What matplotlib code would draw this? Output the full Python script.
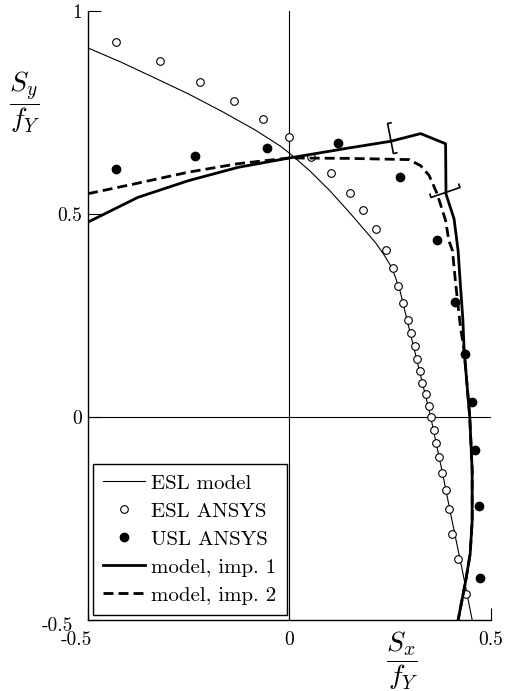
import numpy as np
import matplotlib
matplotlib.use('Agg')
import matplotlib.pyplot as plt
from matplotlib.path import Path
from matplotlib.markers import MarkerStyle
from matplotlib.transforms import Affine2D, ScaledTranslation

plt.rcParams['font.family'] = 'serif'
plt.rcParams['font.serif'] = ['cmr10']
plt.rcParams['mathtext.fontset'] = 'cm'
plt.rcParams['axes.unicode_minus'] = False

# ESL model (thin line)
esl_model_x = [-0.5, -0.418, -0.334, -0.251, -0.168, -0.085, -0.022, 0.0, 0.05, 0.10, 0.15,
               0.19, 0.215, 0.236, 0.250, 0.262, 0.275, 0.292, 0.316, 0.351, 0.380, 0.405, 0.430, 0.454]
esl_model_y = [0.909, 0.874, 0.835, 0.796, 0.753, 0.707, 0.667, 0.650, 0.607, 0.558, 0.503,
               0.457, 0.428, 0.398, 0.375, 0.348, 0.310, 0.240, 0.143, 0.0, -0.137, -0.260, -0.380, -0.5]

# ESL ANSYS (open circles)
esl_ansys_x = [-0.431, -0.321, -0.221, -0.137, -0.065, 0.000, 0.055, 0.103, 0.150, 0.184, 0.214,
               0.240, 0.257, 0.270, 0.282, 0.295, 0.302, 0.312, 0.316, 0.324, 0.329, 0.339, 0.346,
               0.351, 0.360, 0.364, 0.371, 0.380, 0.390, 0.397, 0.405, 0.419, 0.438]
esl_ansys_y = [0.924, 0.876, 0.824, 0.778, 0.735, 0.689, 0.640, 0.600, 0.552, 0.509, 0.463,
               0.411, 0.366, 0.322, 0.280, 0.240, 0.207, 0.176, 0.143, 0.113, 0.083, 0.057, 0.028,
               0.000, -0.031, -0.065, -0.099, -0.137, -0.181, -0.227, -0.288, -0.350, -0.435]

# USL ANSYS (filled circles)
usl_ansys_x = [-0.431, -0.235, -0.055, 0.120, 0.274, 0.367, 0.411, 0.436, 0.454, 0.461, 0.471, 0.474]
usl_ansys_y = [0.612, 0.642, 0.663, 0.675, 0.590, 0.437, 0.284, 0.156, 0.036, -0.082, -0.219, -0.397]

# model, imp. 1 (thick solid)
imp1_x = [-0.5, -0.376, -0.251, -0.127, 0.0, 0.060, 0.144, 0.251, 0.326, 0.388, 0.389, 0.409,
          0.419, 0.424, 0.431, 0.434, 0.448, 0.454, 0.454, 0.449, 0.438, 0.419]
imp1_y = [0.480, 0.541, 0.582, 0.615, 0.638, 0.648, 0.662, 0.679, 0.698, 0.673, 0.549, 0.488,
          0.410, 0.336, 0.238, 0.164, 0.0, -0.132, -0.255, -0.337, -0.403, -0.501]

# model, imp. 2 (thick dashed)
imp2_x = [-0.5, -0.376, -0.251, -0.127, 0.0, 0.144, 0.297, 0.326, 0.347, 0.367, 0.388, 0.396,
          0.405, 0.413, 0.425, 0.434, 0.448, 0.454, 0.454, 0.449, 0.438, 0.419]
imp2_y = [0.550, 0.576, 0.603, 0.624, 0.638, 0.637, 0.634, 0.619, 0.595, 0.550, 0.484, 0.435,
          0.410, 0.328, 0.221, 0.164, 0.0, -0.132, -0.255, -0.337, -0.403, -0.501]

# brackets on imp. 1 curve
bracket_x = [0.249, 0.386]
bracket_y = [0.687, 0.553]
bracket_angle = [11, 109]

xticks = [-0.5, 0, 0.5]
xtick_labels = ['-0.5', '0', '0.5']
yticks = [-0.5, 0, 0.5, 1]
ytick_labels = ['-0.5', '0', '0.5', '1']

fig = plt.figure(figsize=(5.06, 6.91), dpi=100)
ax = fig.add_axes([88/506, 1-620/691, 402.7/506, 609/691])

ax.axhline(0, color='black', lw=0.8)
ax.axvline(0, color='black', lw=0.8)

ax.plot(esl_model_x, esl_model_y, color='black', lw=0.8, label='ESL model')
ax.plot(esl_ansys_x, esl_ansys_y, 'o', mfc='white', mec='black', mew=0.8, ms=5.5, label='ESL ANSYS')
ax.plot(usl_ansys_x, usl_ansys_y, 'o', color='black', ms=6, label='USL ANSYS')
ax.plot(imp1_x, imp1_y, color='black', lw=2, label='model, imp. 1')
ax.plot(imp2_x, imp2_y, color='black', lw=2, linestyle=(0, (3.6, 1.8)), label='model, imp. 2')

bracket = Path([(0.28, 1), (0, 1), (0, -1), (0.28, -1)],
               [Path.MOVETO, Path.LINETO, Path.LINETO, Path.LINETO])
for bx, by, ang in zip(bracket_x, bracket_y, bracket_angle):
    m = MarkerStyle(bracket, transform=Affine2D().rotate_deg(ang))
    ax.plot([bx], [by], marker=m, ms=22, mec='black', mfc='none', mew=1.2, ls='none')

ax.set_xlim(-0.5, 0.5)
ax.set_ylim(-0.5, 1)
ax.set_xticks(xticks)
ax.set_xticklabels(xtick_labels)
ax.set_yticks(yticks)
ax.set_yticklabels(ytick_labels)
ax.tick_params(direction='in', length=9, width=0.8, labelsize=14)
ax.tick_params(axis='x', pad=8)
ax.tick_params(axis='y', pad=4)
ax.spines['top'].set_visible(False)
ax.spines['right'].set_visible(False)
ax.spines['left'].set_linewidth(1)
ax.spines['bottom'].set_linewidth(1)

ax.set_xlabel(r'$\dfrac{S_x}{f_Y}$', fontsize=20, va='center')
ax.xaxis.set_label_coords(0.780, -0.067)
ax.set_ylabel(r'$\dfrac{S_y}{f_Y}$', fontsize=20, rotation=0, ha='center', va='center')
ax.yaxis.set_label_coords(-0.156, 0.851)

leg = ax.legend(loc='lower left', bbox_to_anchor=(0.0117, 0.0082), borderaxespad=0, numpoints=1,
                fontsize=15, fancybox=False, framealpha=1, edgecolor='black',
                handlelength=2.0, handletextpad=0.3, labelspacing=0.45, borderpad=0.5)
leg.get_frame().set_linewidth(1)

# the two -0.5 labels sit a bit off in the original
xl = ax.xaxis.get_major_ticks()[0].label1
xl.set_transform(xl.get_transform() + ScaledTranslation(-0.12, 0, fig.dpi_scale_trans))
yl = ax.yaxis.get_major_ticks()[0].label1
yl.set_transform(yl.get_transform() + ScaledTranslation(-0.09, -0.04, fig.dpi_scale_trans))

fig.savefig('out.png', dpi=100)
